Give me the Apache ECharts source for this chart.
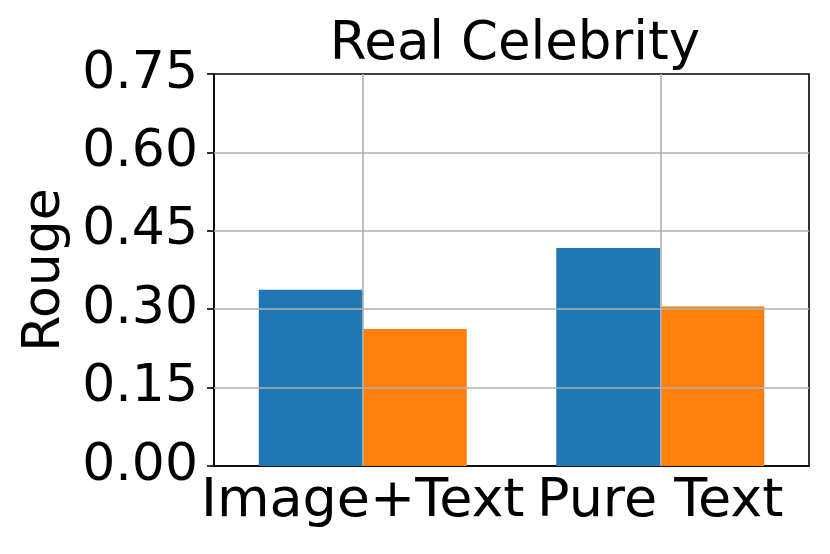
<!DOCTYPE html>
<html>
<head>
<meta charset="utf-8">
<script src="https://cdn.jsdelivr.net/npm/echarts@6/dist/echarts.min.js"></script>
<style>
  html, body { margin: 0; padding: 0; background: #fff; }
  #chart { width: 830px; height: 554px; }
</style>
</head>
<body>
<div id="chart"></div>
<script>
// categories and values
var categories = ['Image+Text', 'Pure Text'];
var blueValues = [0.337, 0.417];
var orangeValues = [0.262, 0.305];
var yTicks = [0, 0.15, 0.30, 0.45, 0.60, 0.75];

var font = 'DejaVu Sans';
var gridColor = '#b0b0b0';

var chart = echarts.init(document.getElementById('chart'), null, { renderer: 'canvas' });

var option = {
  animation: false,
  backgroundColor: '#fff',
  title: {
    text: 'Real Celebrity',
    left: 510,
    textAlign: 'center',
    top: 14,
    textStyle: { fontFamily: font, fontSize: 53, fontWeight: 'normal', color: '#000' }
  },
  grid: {
    left: 214, right: 21, top: 74, bottom: 88,
    show: true, borderColor: '#000', borderWidth: 1.6, backgroundColor: 'transparent'
  },
  xAxis: {
    type: 'category',
    data: categories,
    boundaryGap: true,
    axisLine: { lineStyle: { color: '#000', width: 1.6 } },
    axisTick: { alignWithLabel: true, length: 7, lineStyle: { color: '#000', width: 1.6 } },
    axisLabel: { fontFamily: font, fontSize: 54, color: '#000', margin: 9, interval: 0, hideOverlap: false },
    splitLine: { show: false }
  },
  yAxis: {
    type: 'value',
    min: 0,
    max: 0.75,
    interval: 0.15,
    name: 'Rouge',
    nameLocation: 'middle',
    nameRotate: 90,
    nameGap: 143,
    nameTextStyle: { fontFamily: font, fontSize: 52, color: '#000' },
    axisLine: { show: true, lineStyle: { color: '#000', width: 1.6 } },
    axisTick: { show: true, length: 7, lineStyle: { color: '#000', width: 1.6 } },
    axisLabel: {
      fontFamily: font, fontSize: 52, color: '#000', margin: 16,
      formatter: function (v) { return v.toFixed(2); }
    },
    splitLine: { show: false }
  },
  series: [
    {
      name: 'A',
      type: 'bar',
      data: blueValues,
      barWidth: 104,
      barGap: '0%',
      itemStyle: { color: '#1f77b4' }
    },
    {
      name: 'B',
      type: 'bar',
      data: orangeValues,
      barWidth: 104,
      barGap: '0%',
      itemStyle: { color: '#ff7f0e' }
    },
    {
      // grid lines drawn on top of the bars, like matplotlib
      name: 'grid',
      type: 'line',
      data: [],
      z: 5,
      silent: true,
      markLine: {
        silent: true,
        symbol: 'none',
        label: { show: false },
        lineStyle: { color: gridColor, width: 1.6, type: 'solid' },
        data: yTicks.slice(1, -1).map(function (t) { return { yAxis: t }; })
          .concat(categories.map(function (c) { return { xAxis: c }; }))
      }
    }
  ]
};

chart.setOption(option);
</script>
</body>
</html>
